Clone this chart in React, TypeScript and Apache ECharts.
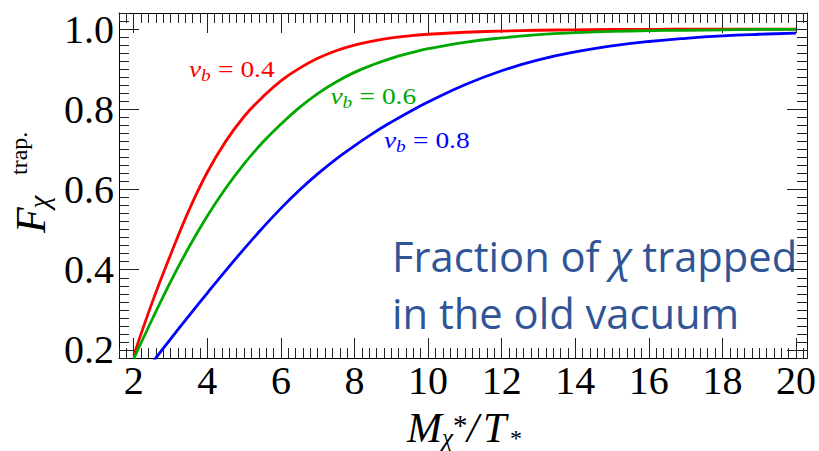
import React, { useEffect, useRef } from "react";
import * as echarts from "echarts";

// M_chi* / T_* sample points shared by the three curves
const massRatio = [2, 2.5, 3, 3.5, 4, 4.5, 5, 5.5, 6, 6.5, 7, 7.5, 8, 8.5, 9, 9.5, 10, 11, 12, 13, 14, 15, 16, 17, 18, 19, 20];

// trapped fraction for each bubble-wall velocity
const trappedVb04 = [0.186, 0.318, 0.437, 0.548, 0.643, 0.72, 0.782, 0.83, 0.871, 0.902, 0.927, 0.946, 0.96, 0.97, 0.978, 0.983, 0.987, 0.992, 0.995, 0.997, 0.998, 0.999, 0.999, 1.0, 1.0, 1.0, 1.0];
const trappedVb06 = [0.178, 0.276, 0.37, 0.456, 0.534, 0.603, 0.664, 0.717, 0.763, 0.804, 0.839, 0.868, 0.892, 0.911, 0.927, 0.94, 0.951, 0.967, 0.978, 0.986, 0.991, 0.994, 0.996, 0.997, 0.998, 0.999, 0.999];
const trappedVb08 = [0.108, 0.168, 0.227, 0.285, 0.342, 0.398, 0.452, 0.504, 0.553, 0.598, 0.639, 0.676, 0.709, 0.74, 0.768, 0.794, 0.818, 0.861, 0.896, 0.923, 0.943, 0.958, 0.969, 0.977, 0.983, 0.987, 0.99];

const wallVelocities = ["0.4", "0.6", "0.8"];
const curveColors = ["#ff0000", "#00a800", "#0000ff"];

const majorXTicks = [2, 4, 6, 8, 10, 12, 14, 16, 18, 20];
const majorYTicks = [0.2, 0.4, 0.6, 0.8, 1.0];

const noteLines = ["Fraction of {c|χ} trapped", "in the old vacuum"];

const SERIF = "Liberation Serif";
const SANS = "Open Sans";

const X_MIN = 1.6;
const X_MAX = 20.3;
const Y_MIN = 0.18;
const Y_MAX = 1.04;

const tickLine = { color: "#222", width: 1 };

function minorXAxis(position: "top" | "bottom") {
  return {
    type: "value",
    position,
    min: X_MIN,
    max: X_MAX,
    interval: 0.2,
    axisLine: { show: true, onZero: false, lineStyle: { color: "#000", width: 1 } },
    axisTick: { show: true, inside: true, length: 10, lineStyle: tickLine },
    axisLabel: { show: false },
    splitLine: { show: false },
  };
}

function majorXAxis(position: "top" | "bottom", withLabels: boolean) {
  return {
    type: "value",
    position,
    min: X_MIN,
    max: X_MAX,
    axisLine: { show: false, onZero: false },
    axisTick: { show: true, inside: true, length: 20, customValues: majorXTicks, lineStyle: tickLine },
    axisLabel: {
      show: withLabels,
      customValues: majorXTicks,
      margin: 2,
      fontSize: 40,
      fontFamily: SERIF,
      color: "#000",
    },
    splitLine: { show: false },
  };
}

function minorYAxis(position: "left" | "right") {
  return {
    type: "value",
    position,
    min: Y_MIN,
    max: Y_MAX,
    interval: 0.02,
    axisLine: { show: true, onZero: false, lineStyle: { color: "#000", width: 1 } },
    axisTick: { show: true, inside: true, length: 10, lineStyle: tickLine },
    axisLabel: { show: false },
    splitLine: { show: false },
  };
}

function majorYAxis(position: "left" | "right", withLabels: boolean) {
  return {
    type: "value",
    position,
    min: Y_MIN,
    max: Y_MAX,
    axisLine: { show: false, onZero: false },
    axisTick: { show: true, inside: true, length: 20, customValues: majorYTicks, lineStyle: tickLine },
    axisLabel: {
      show: withLabels,
      customValues: majorYTicks,
      margin: 5,
      fontSize: 40,
      fontFamily: SERIF,
      color: "#000",
      padding: [0, 0, 6, 0],
      formatter: (v: number) => v.toFixed(1),
    },
    splitLine: { show: false },
  };
}

function txt(
  text: string,
  x: number,
  y: number,
  size: number,
  opts: { italic?: boolean; color?: string; rotation?: number; family?: string; lineHeight?: number } = {}
) {
  return {
    type: "text",
    x,
    y,
    rotation: opts.rotation ?? 0,
    silent: true,
    style: {
      text,
      fill: opts.color ?? "#000",
      fontSize: size,
      fontFamily: opts.family ?? SERIF,
      fontStyle: opts.italic ? "italic" : "normal",
      lineHeight: opts.lineHeight ?? size,
      align: "left",
      verticalAlign: "middle",
      textAlign: "left",
      textVerticalAlign: "middle",
    },
  };
}

// "v_b = value" label, drawn slightly stretched horizontally
function velocityLabel(value: string, color: string, x: number, y: number) {
  return {
    type: "group",
    x,
    y,
    scaleX: 1.17,
    children: [
      txt("v", 0, 0, 23.5, { italic: true, color }),
      txt("b", 10.2, 6.3, 16.5, { italic: true, color, lineHeight: 12 }),
      txt("= " + value, 24.8, 0, 23.5, { color }),
    ],
  };
}

export default function App() {
  const ref = useRef<HTMLDivElement>(null);

  useEffect(() => {
    if (!ref.current) return;
    const chart = echarts.init(ref.current, undefined, { renderer: "svg" });

    const curves = [trappedVb04, trappedVb06, trappedVb08];
    const labelSpots = [
      [189, 69.5],
      [330.5, 95.8],
      [384, 140.5],
    ];

    chart.setOption({
      animation: false,
      grid: { left: 119, top: 13, right: 10, bottom: 93 },
      xAxis: [minorXAxis("bottom"), majorXAxis("bottom", true), minorXAxis("top"), majorXAxis("top", false)],
      yAxis: [minorYAxis("left"), majorYAxis("left", true), minorYAxis("right"), majorYAxis("right", false)],
      series: curves.map((vals, i) => ({
        type: "line",
        name: "v_b = " + wallVelocities[i],
        xAxisIndex: 0,
        yAxisIndex: 0,
        data: massRatio.map((m, k) => [m, vals[k]]),
        showSymbol: false,
        symbol: "none",
        smooth: 0.45,
        clip: true,
        lineStyle: { color: curveColors[i], width: 2.8 },
      })),
      graphic: [
        // y-axis title: F_chi^trap.
        txt("F", 30.8, 233, 42, { italic: true, rotation: Math.PI / 2 }),
        txt("χ", 38.7, 208.5, 29, { italic: true, rotation: Math.PI / 2, lineHeight: 20 }),
        txt("trap.", 18.9, 175, 24, { rotation: Math.PI / 2, lineHeight: 18 }),
        // x-axis title: M_chi^* / T_*
        txt("M", 407, 427.8, 42, { italic: true, lineHeight: 30 }),
        txt("χ", 442, 437, 25, { italic: true, lineHeight: 16 }),
        txt("*", 453, 425.2, 29, { lineHeight: 14 }),
        txt("/", 467, 427.8, 42, { italic: true, lineHeight: 30 }),
        txt("T", 483, 427.8, 42, { italic: true, lineHeight: 30 }),
        txt("*", 510, 437.5, 24, { lineHeight: 10 }),
        // curve labels
        ...wallVelocities.map((v, i) => velocityLabel(v, curveColors[i], labelSpots[i][0], labelSpots[i][1])),
        // note
        ...noteLines.map((line, i) => ({
          type: "text",
          x: 392,
          y: 255.8 + i * 56.6,
          silent: true,
          style: {
            text: line,
            fill: "#2f5597",
            fontSize: 41.7,
            fontFamily: SANS,
            align: "left",
            verticalAlign: "middle",
            textAlign: "left",
            textVerticalAlign: "middle",
            rich: {
              c: { fontSize: 41.7, fontFamily: SANS, fontStyle: "italic", fill: "#2f5597", color: "#2f5597" },
            },
          },
        })),
      ],
    });

    return () => chart.dispose();
  }, []);

  return (
    <div
      ref={ref}
      style={{ position: "absolute", left: 0, top: 0, width: 819, height: 451, background: "#fff" }}
    />
  );
}
